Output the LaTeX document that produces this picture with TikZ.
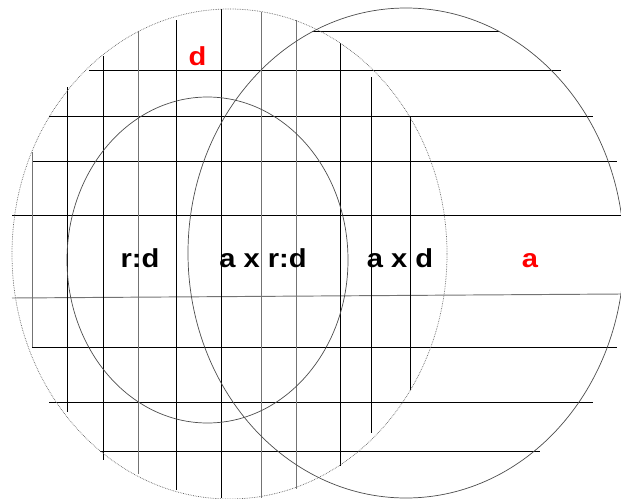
\documentclass[tikz,border=0pt]{standalone}
\usepackage{fontspec}
\setmainfont{Liberation Sans}
\begin{document}
\begin{tikzpicture}[x=1pt,y=-1pt,
  grid/.style={line width=0.95pt,black},
  gridgray/.style={line width=0.95pt,black!55},
  ring/.style={line width=0.7pt,black!70},
  dotring/.style={line width=0.7pt,black!60,densely dotted},
  lbl/.style={font=\bfseries\fontsize{26}{30}\selectfont,xscale=1.12,anchor=base,inner sep=0pt},
  redlbl/.style={lbl,text=red}]
\useasboundingbox (0,0) rectangle (621,498);
% horizontal lines
\draw[grid] (312,31) -- (499,31);
\draw[grid] (89,70) -- (561,70);
\draw[grid] (49,116) -- (593,116);
\draw[grid] (32,161) -- (617,161);
\draw[grid] (12,215) -- (621,215);
\draw[gridgray] (12,298) -- (621,294);
\draw[grid] (32,347) -- (617,347);
\draw[grid] (49,402) -- (593,402);
\draw[grid] (100,451) -- (540,451);
% vertical lines
\draw[gridgray] (32,152) -- (32,347);
\draw[grid] (67,87) -- (67,412);
\draw[grid] (103,56) -- (103,460);
\draw[gridgray] (138,31) -- (138,474);
\draw[grid] (176,20) -- (176,490);
\draw[grid] (221,9) -- (221,498);
\draw[gridgray] (261,12) -- (261,498);
\draw[gridgray] (296,20) -- (296,489);
\draw[grid] (340,43) -- (340,466);
\draw[grid] (371,77) -- (371,433);
\draw[grid] (410,116) -- (410,390);
% circles
\draw[dotring] (229.5,254) ellipse [x radius=217.5, y radius=245];
\draw[ring] (406,253) ellipse [x radius=218, y radius=245];
\draw[ring] (207.5,260) ellipse [x radius=140.5, y radius=163];
% labels
\node[redlbl] (d) at (197.5,65) {d};
\node[lbl] (rd) at (140,267) {r:d};
\node[lbl] (axrd) at (263,267) {a x r:d};
\node[lbl] (axd) at (400,267) {a x d};
\node[redlbl] (a) at (530,267) {a};
\end{tikzpicture}
\end{document}
